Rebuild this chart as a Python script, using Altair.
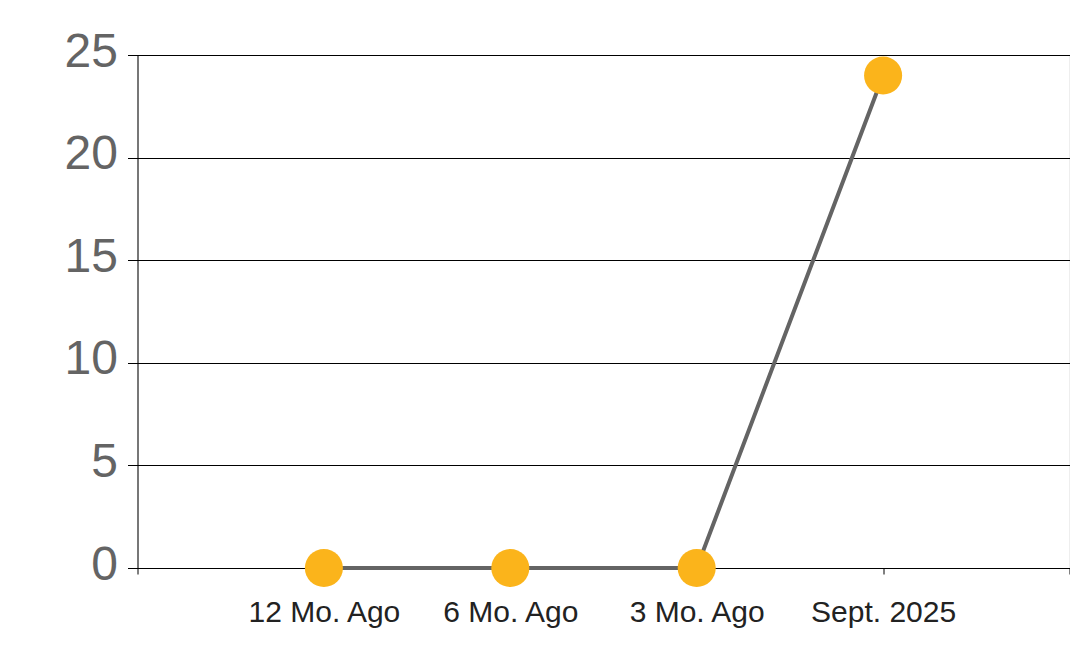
import altair as alt
import pandas as pd

periods = ["12 Mo. Ago", "6 Mo. Ago", "3 Mo. Ago", "Sept. 2025"]
values = [0, 0, 0, 24]
x_domain = [""] + periods + [" "]
y_ticks = [0, 5, 10, 15, 20, 25]

df = pd.DataFrame({"period": periods, "value": values, "order": list(range(len(periods)))})

x_enc = alt.X(
    "period:N",
    sort=x_domain,
    scale=alt.Scale(type="point", domain=x_domain, padding=0),
    axis=alt.Axis(
        title=None, labelAngle=0, labelFont="Liberation Sans", labelFontSize=30,
        labelColor="#222222", labelPadding=23, tickSize=6, tickColor="#000000",
        domainColor="#000000", grid=False, labelBaseline="top",
    ),
)
y_enc = alt.Y(
    "value:Q",
    scale=alt.Scale(domain=[0, 25], nice=False, zero=True),
    axis=alt.Axis(
        title=None, values=y_ticks, labelFont="Liberation Sans", labelFontSize=48,
        labelColor="#646464", labelPadding=10, tickSize=10, tickColor="#000000",
        domainColor="#000000", grid=True, gridColor="#000000", gridWidth=1,
        gridOpacity=1, labelBaseline="middle", labelOffset=-3,
    ),
)

line = alt.Chart(df).mark_line(color="#646464", strokeWidth=4).encode(
    x=x_enc, y=y_enc, order="order:Q"
)
pts = alt.Chart(df).mark_circle(color="#FBB41B", opacity=1, size=1450).encode(
    x=x_enc, y=y_enc
)

chart = (
    alt.layer(line, pts)
    .properties(
        width=932,
        height=513,
        autosize=alt.AutoSizeParams(type="none"),
        padding={"left": 129.5, "top": 47, "right": 0, "bottom": 78},
    )
    .configure_view(stroke=None)
    .configure(background="#ffffff")
)

chart.save("out.html", embed_options={"renderer": "svg", "actions": False})
